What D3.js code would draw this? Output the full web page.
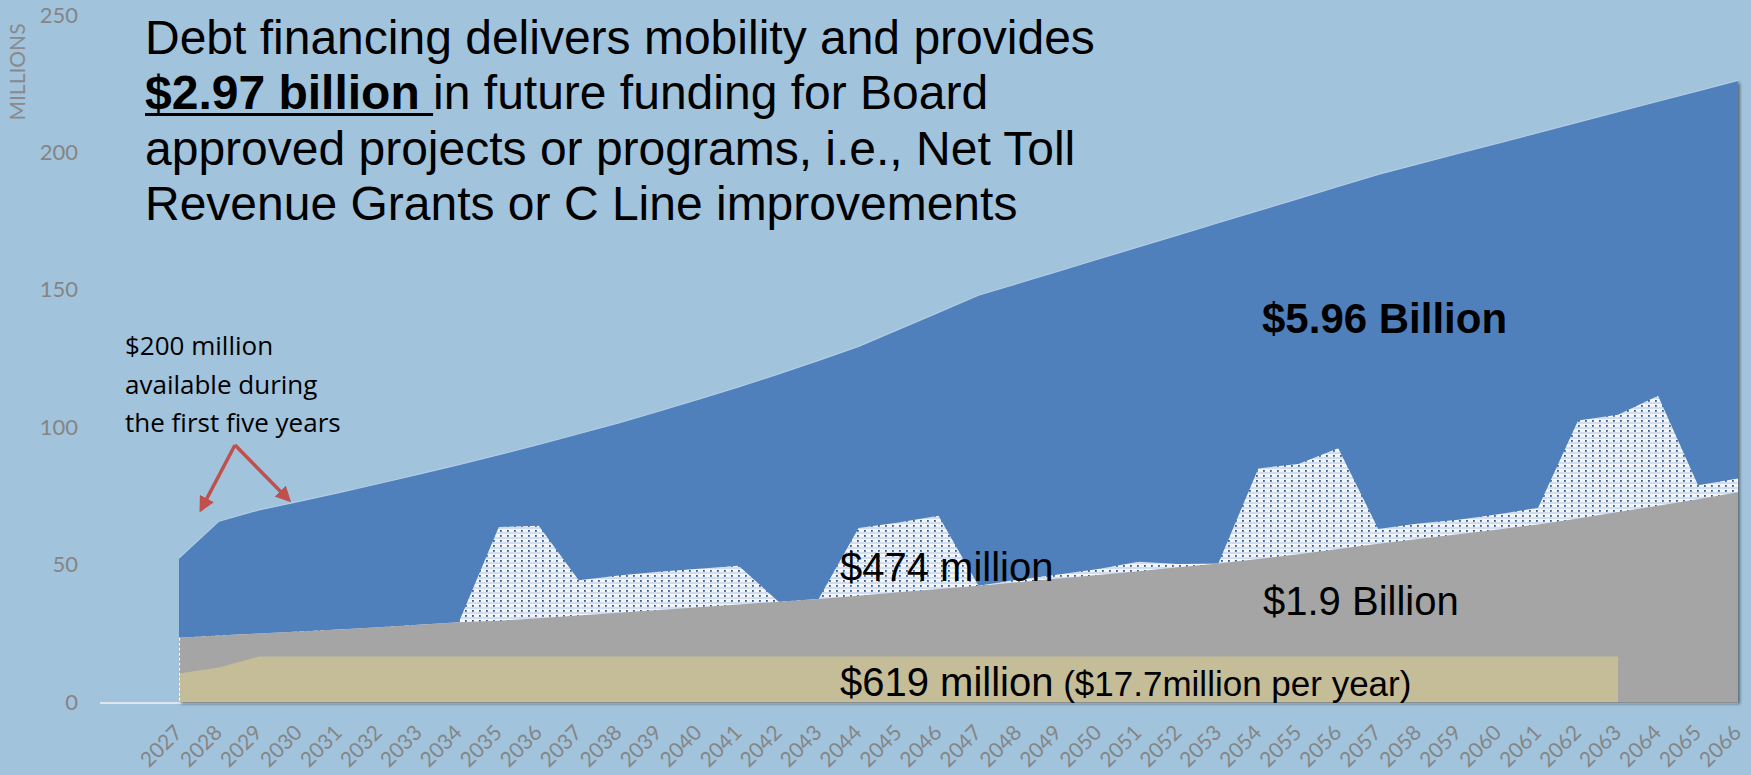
<!DOCTYPE html>
<html>
<head>
<meta charset="utf-8">
<script src="https://cdn.jsdelivr.net/npm/d3@7"></script>
<style>
html, body { margin: 0; padding: 0; background: #a1c3dc; }
svg { display: block; }
</style>
</head>
<body>
<svg width="1751" height="775"></svg>
<script>
// categories
var years = [2027, 2028, 2029, 2030, 2031, 2032, 2033, 2034, 2035, 2036,
             2037, 2038, 2039, 2040, 2041, 2042, 2043, 2044, 2045, 2046,
             2047, 2048, 2049, 2050, 2051, 2052, 2053, 2054, 2055, 2056,
             2057, 2058, 2059, 2060, 2061, 2062, 2063, 2064, 2065, 2066];
var yTicks = [0, 50, 100, 150, 200, 250];

// layer tops, millions
// debt financing total -> "$5.96 Billion"
var debtTotal = [52.4, 65.8, 69.9, 73.0, 76.2, 79.5, 82.9, 86.4, 90.0, 93.7,
                 97.6, 101.6, 105.8, 110.2, 114.7, 119.4, 124.3, 129.4, 135.6, 141.8,
                 148.0, 152.4, 156.8, 161.2, 165.6, 170.0, 174.4, 178.8, 183.2, 187.6,
                 192.0, 195.8, 199.6, 203.4, 207.2, 211.0, 214.8, 218.6, 222.4, 226.2];
// dotted layer -> "$474 million"
var extraFunding = [23.4, 24.2, 24.9, 25.7, 26.4, 27.2, 28.1, 29.0, 63.7, 64.1,
                    44.3, 46.0, 47.4, 48.5, 49.6, 36.5, 37.5, 63.3, 65.3, 67.8,
                    42.3, 44.6, 46.4, 48.4, 51.0, 50.2, 50.4, 85.0, 86.6, 92.3,
                    63.0, 65.0, 66.3, 68.3, 70.7, 102.4, 104.5, 111.4, 78.9, 81.3];
// gray layer -> "$1.9 Billion"
var baseFunding = [23.4, 24.2, 24.9, 25.7, 26.4, 27.2, 28.1, 29.0, 29.6, 30.5,
                   31.5, 32.5, 33.5, 34.5, 35.5, 36.5, 37.5, 38.7, 39.9, 41.1,
                   42.3, 43.6, 44.9, 46.2, 47.6, 49.0, 50.4, 52.0, 53.8, 55.7,
                   57.6, 59.3, 61.0, 62.8, 64.6, 66.8, 69.1, 71.4, 73.8, 76.3];
// tan layer -> "$619 million", stops after 2063
var tollRevenue = [10.4, 12.6, 16.6, 16.6, 16.6, 16.6, 16.6, 16.6, 16.6, 16.6,
                   16.6, 16.6, 16.6, 16.6, 16.6, 16.6, 16.6, 16.6, 16.6, 16.6,
                   16.6, 16.6, 16.6, 16.6, 16.6, 16.6, 16.6, 16.6, 16.6, 16.6,
                   16.6, 16.6, 16.6, 16.6, 16.6, 16.6, 16.6, null, null, null];

var svg = d3.select("svg");
var width = +svg.attr("width");
var height = +svg.attr("height");

var x = d3.scalePoint().domain(years).range([179, 1738]);
var y = d3.scaleLinear().domain([0, 250]).range([702, 15]);

var defs = svg.append("defs");

var pat = defs.append("pattern")
    .attr("id", "dots")
    .attr("patternUnits", "userSpaceOnUse")
    .attr("width", 7)
    .attr("height", 5);
pat.append("rect").attr("width", 7).attr("height", 5).attr("fill", "#f3f6fb");
pat.append("rect").attr("y", 2.5).attr("width", 7).attr("height", 1).attr("fill", "#b0c7e4");
pat.append("rect").attr("x", 3).attr("y", 0).attr("width", 1.8).attr("height", 1.8).attr("fill", "#37588a");

var shadow = defs.append("filter")
    .attr("id", "shadow")
    .attr("x", "-5%").attr("y", "-5%")
    .attr("width", "110%").attr("height", "110%");
shadow.append("feDropShadow")
    .attr("dx", 2).attr("dy", 2)
    .attr("stdDeviation", 1.8)
    .attr("flood-color", "#000")
    .attr("flood-opacity", 0.45);

// background
svg.append("rect").attr("width", width).attr("height", height).attr("fill", "#a1c3dc");

function areaFor(values) {
    return d3.area()
        .defined(function (d, i) { return values[i] != null; })
        .x(function (d) { return x(d); })
        .y0(y(0))
        .y1(function (d, i) { return y(values[i]); });
}

// light baseline
svg.append("line")
    .attr("x1", 100).attr("x2", x(2066))
    .attr("y1", y(0) + 1).attr("y2", y(0) + 1)
    .attr("stroke", "#dfe6ec")
    .attr("stroke-width", 2);

var areas = svg.append("g").attr("class", "areas").attr("filter", "url(#shadow)");

areas.append("path").datum(years)
    .attr("fill", "#4f80bc")
    .attr("d", areaFor(debtTotal));

areas.append("path").datum(years)
    .attr("fill", "url(#dots)")
    .attr("d", areaFor(extraFunding));

areas.append("path").datum(years)
    .attr("fill", "#a5a5a5")
    .attr("d", areaFor(baseFunding));

areas.append("path").datum(years)
    .attr("fill", "#c4bd97")
    .attr("d", areaFor(tollRevenue));

// faint highlight on the top edge
svg.append("path").datum(years)
    .attr("fill", "none")
    .attr("stroke", "#b3cde6")
    .attr("stroke-width", 1.2)
    .attr("d", d3.line().x(function (d) { return x(d); }).y(function (d, i) { return y(debtTotal[i]); }));

// dashed edge on the left of the lower layers
svg.append("line")
    .attr("x1", x(2027) + 0.5).attr("x2", x(2027) + 0.5)
    .attr("y1", y(baseFunding[0])).attr("y2", y(0))
    .attr("stroke", "#ffffff")
    .attr("stroke-width", 1)
    .attr("stroke-dasharray", "3,2");

// y axis
var yAxis = svg.append("g")
    .attr("transform", "translate(80,0)")
    .call(d3.axisLeft(y).tickValues(yTicks).tickSize(0).tickPadding(2));
yAxis.select(".domain").remove();
yAxis.selectAll("text")
    .attr("fill", "#858585")
    .style("font-family", "Lato, 'Open Sans', sans-serif")
    .style("font-size", "22px");

svg.append("text")
    .attr("transform", "translate(25,72) rotate(-90)")
    .attr("text-anchor", "middle")
    .attr("fill", "#8a8a8a")
    .style("font-family", "Lato, 'Open Sans', sans-serif")
    .style("font-size", "21px")
    .text("MILLIONS");

// x axis
var xAxis = svg.append("g")
    .attr("transform", "translate(0," + y(0) + ")")
    .call(d3.axisBottom(x).tickSize(0));
xAxis.select(".domain").remove();
xAxis.selectAll("text")
    .attr("x", 0).attr("y", 0).attr("dy", 0)
    .attr("transform", "translate(4,32) rotate(-45)")
    .style("text-anchor", "end")
    .attr("fill", "#858585")
    .style("font-family", "Lato, 'Open Sans', sans-serif")
    .style("font-size", "21px");

// title block
var titleFont = "'Liberation Sans', Arial, sans-serif";
var titleSize = 48;
var titleX = 145;
var titleLines = [
    "Debt financing delivers mobility and provides",
    null,
    "approved projects or programs, i.e., Net Toll",
    "Revenue Grants or C Line improvements"
];
var titleBase = [54, 109, 165, 220];

titleLines.forEach(function (t, i) {
    if (t == null) return;
    svg.append("text")
        .attr("x", titleX).attr("y", titleBase[i])
        .attr("fill", "#000")
        .style("font-family", titleFont)
        .style("font-size", titleSize + "px")
        .text(t);
});

var bold = svg.append("text")
    .attr("x", titleX).attr("y", titleBase[1])
    .attr("fill", "#000")
    .style("font-family", titleFont)
    .style("font-size", titleSize + "px")
    .style("font-weight", "bold")
    .text("$2.97 billion\u00a0");
var boldW = bold.node().getComputedTextLength();
svg.append("rect")
    .attr("x", titleX).attr("y", titleBase[1] + 4)
    .attr("width", boldW).attr("height", 3)
    .attr("fill", "#000");
svg.append("text")
    .attr("x", titleX + boldW).attr("y", titleBase[1])
    .attr("fill", "#000")
    .style("font-family", titleFont)
    .style("font-size", titleSize + "px")
    .text("in future funding for Board");

// series labels
function label(txt, xv, yv, size, weight) {
    return svg.append("text")
        .attr("x", xv).attr("y", yv)
        .attr("fill", "#000")
        .style("font-family", titleFont)
        .style("font-size", size + "px")
        .style("font-weight", weight || "normal")
        .text(txt);
}
label("$5.96 Billion", 1262, 333, 42, "bold");
label("$474 million", 840, 581, 40);
label("$1.9 Billion", 1263, 615, 40);
var toll = label("$619 million", 840, 696, 40);
toll.append("tspan").style("font-size", "35px").text(" ($17.7million per year)");

// callout
var note = svg.append("text")
    .attr("fill", "#000")
    .style("font-family", "'Open Sans', Lato, sans-serif")
    .style("font-size", "26px");
["$200 million", "available during", "the first five years"].forEach(function (t, i) {
    note.append("tspan").attr("x", 125).attr("y", 355 + i * 38.5).text(t);
});

var arrowColor = "#c0504d";
defs.append("marker")
    .attr("id", "head")
    .attr("viewBox", "0 0 10 10")
    .attr("refX", 8).attr("refY", 5)
    .attr("markerWidth", 4.5).attr("markerHeight", 4.5)
    .attr("orient", "auto")
    .append("path")
    .attr("d", "M0,0 L10,5 L0,10 Z")
    .attr("fill", arrowColor);

var origin = [235, 445];
[[x(2027) + 22, y(70)], [x(2029) + 30, y(73.5)]].forEach(function (p) {
    svg.append("line")
        .attr("x1", origin[0]).attr("y1", origin[1])
        .attr("x2", p[0]).attr("y2", p[1])
        .attr("stroke", arrowColor)
        .attr("stroke-width", 3.5)
        .attr("marker-end", "url(#head)");
});
</script>
</body>
</html>
